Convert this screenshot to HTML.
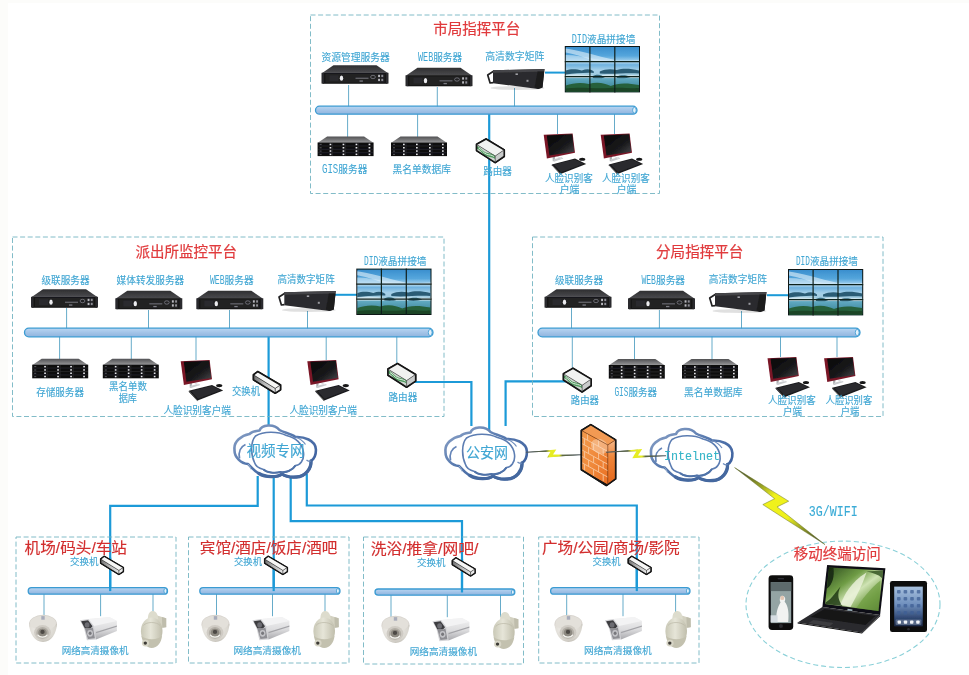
<!DOCTYPE html>
<html lang="zh"><head><meta charset="utf-8"><title>监控平台网络拓扑</title>
<style>html,body{margin:0;padding:0;background:#fff}body{width:969px;height:675px;overflow:hidden}svg{display:block}</style>
</head><body>
<svg width="969" height="675" viewBox="0 0 969 675">
<defs>
<filter id="soft" x="0" y="0" width="100%" height="100%" filterUnits="userSpaceOnUse"><feGaussianBlur stdDeviation="0.6"/></filter>
<linearGradient id="gbus" x1="0" y1="0" x2="0" y2="1"><stop offset="0" stop-color="#b9d6f2"/><stop offset="0.5" stop-color="#a3c4e8"/><stop offset="1" stop-color="#8fb4de"/></linearGradient>
<linearGradient id="gsrvtop" x1="0" y1="0" x2="0" y2="1"><stop offset="0" stop-color="#2e2e30"/><stop offset="1" stop-color="#4a4a4d"/></linearGradient>
<linearGradient id="gstotop" x1="0" y1="0" x2="0" y2="1"><stop offset="0" stop-color="#505052"/><stop offset="1" stop-color="#98989a"/></linearGradient>
<linearGradient id="gscreen" x1="0" y1="0" x2="1" y2="1"><stop offset="0" stop-color="#050505"/><stop offset="0.6" stop-color="#1a1a1c"/><stop offset="1" stop-color="#4a4a4e"/></linearGradient>
<linearGradient id="gsky" x1="0" y1="0" x2="0" y2="1"><stop offset="0" stop-color="#3a8fce"/><stop offset="0.2" stop-color="#55a6dc"/><stop offset="0.34" stop-color="#b3d9f0"/><stop offset="0.4" stop-color="#6fb2df"/><stop offset="0.52" stop-color="#a5d0e8"/><stop offset="0.66" stop-color="#9dc9dc"/><stop offset="0.72" stop-color="#5fa8c0"/><stop offset="0.86" stop-color="#4a93a8"/><stop offset="1" stop-color="#2f6f6a"/></linearGradient>
<linearGradient id="gcloud" x1="0" y1="0" x2="1" y2="1"><stop offset="0" stop-color="#8da4c8"/><stop offset="0.45" stop-color="#5577ad"/><stop offset="1" stop-color="#35599a"/></linearGradient>
<linearGradient id="gfwf" x1="0" y1="0" x2="1" y2="1"><stop offset="0" stop-color="#f39a4c"/><stop offset="0.5" stop-color="#f08a3c"/><stop offset="1" stop-color="#ea6f24"/></linearGradient>
<linearGradient id="gfws" x1="0" y1="0" x2="0" y2="1"><stop offset="0" stop-color="#f6b88a"/><stop offset="0.4" stop-color="#ee8438"/><stop offset="1" stop-color="#e4661c"/></linearGradient>
<radialGradient id="gdome" cx="0.4" cy="0.3" r="0.8"><stop offset="0" stop-color="#f4f2ee"/><stop offset="0.7" stop-color="#d9d6cf"/><stop offset="1" stop-color="#b8b4ab"/></radialGradient>
<linearGradient id="gbullet" x1="0" y1="0" x2="0" y2="1"><stop offset="0" stop-color="#f2f2f2"/><stop offset="0.55" stop-color="#dcdcde"/><stop offset="1" stop-color="#a9a9ad"/></linearGradient>
<linearGradient id="gptz" x1="0" y1="0" x2="1" y2="0"><stop offset="0" stop-color="#c9c8b6"/><stop offset="0.45" stop-color="#e6e5d8"/><stop offset="1" stop-color="#c0beac"/></linearGradient>
<linearGradient id="glap" x1="0" y1="0" x2="1" y2="1"><stop offset="0" stop-color="#2c4a1e"/><stop offset="0.35" stop-color="#6f9c45"/><stop offset="0.55" stop-color="#cfe3b4"/><stop offset="0.75" stop-color="#7ea654"/><stop offset="1" stop-color="#35561f"/></linearGradient>
<linearGradient id="gtab" x1="0" y1="0" x2="0" y2="1"><stop offset="0" stop-color="#a9c2df"/><stop offset="0.45" stop-color="#6f8fbd"/><stop offset="0.8" stop-color="#2f4670"/><stop offset="1" stop-color="#1b2945"/></linearGradient>

<linearGradient id="gbolt" x1="0" y1="0" x2="1" y2="0"><stop offset="0" stop-color="#4e585c"/><stop offset="0.36" stop-color="#5d6840"/><stop offset="0.42" stop-color="#e6ec22"/><stop offset="0.6" stop-color="#e6ec22"/><stop offset="0.66" stop-color="#5d6840"/><stop offset="1" stop-color="#4e585c"/></linearGradient>
<linearGradient id="gbolt2" x1="0" y1="0" x2="1" y2="1"><stop offset="0" stop-color="#2c3430"/><stop offset="0.27" stop-color="#9aa324"/><stop offset="0.4" stop-color="#f0f21e"/><stop offset="0.62" stop-color="#eef01e"/><stop offset="0.78" stop-color="#8c9626"/><stop offset="1" stop-color="#23282c"/></linearGradient>
<linearGradient id="gswf" x1="0" y1="0" x2="1" y2="0"><stop offset="0" stop-color="#6f6f70"/><stop offset="0.5" stop-color="#b9b9b9"/><stop offset="1" stop-color="#e6e6e6"/></linearGradient>
<!-- rack server 67x20 -->
<g id="srv">
<polygon points="12,0.2 55,0.2 66,7.8 1,7.8" fill="url(#gsrvtop)"/>
<rect x="1" y="7.6" width="65" height="11.2" fill="#161618"/>
<rect x="0" y="7.8" width="2.6" height="10.8" fill="#2b2b2e"/>
<rect x="64.4" y="7.8" width="2.6" height="10.8" fill="#2b2b2e"/>
<rect x="4" y="8.8" width="59" height="8.8" fill="#202023"/>
<ellipse cx="20" cy="13.2" rx="1.7" ry="2.6" fill="#ececef"/>
<rect x="8" y="10.2" width="9" height="5.8" fill="#2a2a2e"/>
<rect x="34" y="12.6" width="13" height="1.4" fill="#5e5e64"/>
<ellipse cx="51.5" cy="12" rx="2.4" ry="1.7" fill="none" stroke="#8a8a90" stroke-width="0.7"/>
<rect x="56.6" y="9.8" width="1.9" height="2.3" fill="#b9b9be"/><rect x="56.6" y="13.8" width="1.9" height="2.3" fill="#b9b9be"/>
<rect x="59.8" y="9.8" width="1.9" height="2.3" fill="#8e8e94"/><rect x="59.8" y="13.8" width="1.9" height="2.3" fill="#8e8e94"/>
<rect x="38" y="15.4" width="3.4" height="1.3" fill="#7c7c82"/>
</g>

<!-- storage server 56x20 -->
<g id="sto">
<polygon points="9.5,0.2 46.5,0.2 55.8,6.4 0.2,6.4" fill="url(#gstotop)"/>
<rect x="0" y="6.2" width="56" height="13.6" fill="#0e0e10"/>
<g stroke="#3a3a3e" stroke-width="0.45"><line x1="0.5" y1="9.6" x2="55.5" y2="9.6"/><line x1="0.5" y1="13" x2="55.5" y2="13"/><line x1="0.5" y1="16.4" x2="55.5" y2="16.4"/><line x1="15" y1="6.5" x2="15" y2="19.6"/><line x1="28" y1="6.5" x2="28" y2="19.6"/><line x1="41" y1="6.5" x2="41" y2="19.6"/></g>
<g fill="#e6e6ea">
<rect x="12" y="7.4" width="1.7" height="1.5"/><rect x="25" y="7.4" width="1.7" height="1.5"/><rect x="38" y="7.4" width="1.7" height="1.5"/><rect x="51" y="7.4" width="1.7" height="1.5"/>
<rect x="12" y="10.7" width="1.7" height="1.5"/><rect x="25" y="10.7" width="1.7" height="1.5"/><rect x="38" y="10.7" width="1.7" height="1.5"/><rect x="51" y="10.7" width="1.7" height="1.5"/>
<rect x="12" y="14" width="1.7" height="1.5"/><rect x="25" y="14" width="1.7" height="1.5"/><rect x="38" y="14" width="1.7" height="1.5"/><rect x="51" y="14" width="1.7" height="1.5"/>
<rect x="12" y="17.3" width="1.7" height="1.5"/><rect x="25" y="17.3" width="1.7" height="1.5"/><rect x="38" y="17.3" width="1.7" height="1.5"/><rect x="51" y="17.3" width="1.7" height="1.5"/>
</g>
<g fill="#55555a"><rect x="2" y="7.6" width="2" height="1"/><rect x="2" y="11" width="2" height="1"/><rect x="2" y="14.3" width="2" height="1"/><rect x="2" y="17.6" width="2" height="1"/></g>
</g>

<!-- matrix 58x21 -->
<g id="mtx">
<ellipse cx="31" cy="20" rx="27" ry="2" fill="#000" opacity="0.12"/>
<path d="M7.4,3 L1.2,7 L3.6,15 L6.6,14.6" fill="none" stroke="#222224" stroke-width="1.7" stroke-linejoin="round"/>
<polygon points="6.5,2.2 58,1 56,19.6 51.7,21 6.5,15.2" fill="#2b2b2d"/>
<polygon points="6.5,2.2 58,1 57.7,3.4 6.5,4.8" fill="#454548"/>
<polygon points="51,3.6 57.7,3.4 56,19.6 51.7,21 48,19.6" fill="#1d1d1f"/>
<rect x="29" y="5.4" width="2.4" height="1.6" fill="#a2a2a8"/>
<rect x="40" y="11.8" width="2" height="2" fill="#9a9aa0"/>
</g>

<!-- video wall 75x46 -->
<g id="wall">
<rect x="0" y="0" width="75.2" height="46.4" fill="#0c1512"/>
<rect x="1" y="1" width="73.2" height="44.4" fill="url(#gsky)"/>
<path d="M1,2.6 C12,4 30,9.5 52,14.6 L30,15.2 C20,11.5 10,8 1,6.6 Z" fill="#e4f1fa" opacity="0.6"/>
<path d="M1,9 C10,9 20,11 30,13 C40,14.5 52,15 74.2,14 L74.2,16 L1,16 Z" fill="#d7ebf7" opacity="0.55"/>
<path d="M1,24.5 C6,22.5 12,23 17,24.5 C22,22.5 26,23 29,25.5 L29,27 C20,26.5 10,27.5 1,28.5 Z" fill="#2a5b74"/>
<path d="M35,25.5 C40,23 46,22.5 52,24 C58,22 66,22.5 74.2,24.5 L74.2,27.5 C62,26.5 50,28.5 35,27.5 Z" fill="#2a5b74"/>
<path d="M1,29 C10,27.5 22,28.5 30,30 C38,28.5 50,28 60,29.5 C66,28.5 70,29 74.2,29.5 L74.2,32 L1,32 Z" fill="#e3f0f4" opacity="0.7"/>
<path d="M28,30 C33,27.5 37,29 40,31.5 C37,32.5 32,32.5 28,32 Z M52,30.5 C56,28.5 62,29 66,31 C62,32.5 56,32.5 52,32 Z" fill="#35687c"/>
<path d="M1,39.5 C8,37 16,36 24,38 C32,35.5 40,37 46,40 C52,37 62,36.5 74.2,39 L74.2,45.4 L1,45.4 Z" fill="#27603a"/>
<path d="M1,42.4 C14,40.5 30,43 44,42 C56,41 66,42.6 74.2,42 L74.2,45.4 L1,45.4 Z" fill="#1a4525"/>
<g stroke="#10201c" stroke-width="1.2"><line x1="25.1" y1="0" x2="25.1" y2="46.4"/><line x1="50" y1="0" x2="50" y2="46.4"/><line x1="0" y1="15.6" x2="75.2" y2="15.6"/><line x1="0" y1="30.6" x2="75.2" y2="30.6"/></g>
</g>

<!-- router 29x25 -->
<g id="rtr" stroke-linejoin="round">
<polygon points="10.5,0.6 28.6,11.5 28.6,18 19.6,24.2 1,12.2 1,6" fill="#161616" stroke="#161616" stroke-width="1.8"/>
<polygon points="10.5,0.8 28.4,11.6 19.6,17.6 1.2,6.2" fill="#f1f2f1"/>
<polygon points="1.2,6.2 19.6,17.6 19.6,24 1.2,12" fill="#cfd6d0"/>
<path d="M1.2,7.6 C5,8.4 7,13 11,14.4 C14,15.4 17.6,15 19.6,17.8 L19.6,20.6 C17,18.4 14,19 10.6,17.6 C6.6,16 5.4,11.4 1.2,10.4 Z" fill="#4d9a5c"/>
<path d="M3,9.6 C6,10.8 7.4,14.6 11,15.8 C13.6,16.6 16.4,16.6 18.6,18.2" fill="none" stroke="#e9f1ea" stroke-width="0.9"/>
<polygon points="19.6,17.6 28.4,11.6 28.4,18 19.6,24" fill="#c9cbcb"/>
<polygon points="10.5,0.6 28.6,11.5 28.6,18 19.6,24.2 1,12.2 1,6" fill="none" stroke="#161616" stroke-width="1.5"/>
<polyline points="1.2,6.2 19.6,17.6 28.4,11.6" fill="none" stroke="#444" stroke-width="0.6"/>
<line x1="19.6" y1="17.6" x2="19.6" y2="24" stroke="#444" stroke-width="0.6"/>
</g>

<!-- pc 45x41 -->
<g id="pc" transform="scale(1,1.04)">
<polygon points="9.6,21.6 12.2,21.6 11.6,27 9.8,27.2" fill="#a9abae"/>
<polygon points="10,25.6 18.6,23.4 20.4,24.6 11,27.6" fill="#c9cbce"/>
<polygon points="13,22 15,22 19.4,24.4 17.6,25" fill="#dcdde0"/>
<polygon points="0.7,1.8 29.6,0.6 32,19 3.9,24.6" fill="#7a1727"/>
<polygon points="3.8,2.3 29.2,1.3 31.2,18 6.4,21.6" fill="url(#gscreen)"/>
<polygon points="8.8,30.2 32,24.6 43.2,29.8 17.6,39.4" fill="#1a1a1c"/>
<polygon points="11,30.4 31.8,25.6 40.6,29.6 18,37.8" fill="#2b2b2f"/>
<polygon points="8.8,30.2 17.6,39.4 17.6,40.2 8.8,31.1" fill="#0a0a0b"/>
<ellipse cx="39.2" cy="25.2" rx="3.1" ry="1.5" fill="#151517"/>
</g>

<!-- switch 28.5x22.5 -->
<g id="sw" stroke-linejoin="round">
<polygon points="5,0.6 27.8,14 27.8,18.8 22.5,22.2 0.8,8.8 0.8,3.8" fill="#141414" stroke="#141414" stroke-width="1.8"/>
<polygon points="5,0.8 27.6,14 22.5,17.4 1,4" fill="#f6f6f5"/>
<polygon points="1,4 22.5,17.4 22.5,22 1,8.6" fill="url(#gswf)"/>
<polygon points="22.5,17.4 27.6,14 27.6,18.6 22.5,22" fill="#ececec"/>
<polygon points="5,0.6 27.8,14 27.8,18.8 22.5,22.2 0.8,8.8 0.8,3.8" fill="none" stroke="#141414" stroke-width="1.5"/>
<polyline points="1,4 22.5,17.4 27.6,14" fill="none" stroke="#333" stroke-width="0.7"/>
<line x1="22.5" y1="17.4" x2="22.5" y2="22" stroke="#333" stroke-width="0.7"/>
</g>

<!-- cloud 84x54 -->
<g id="cloud">
<path d="M1,25 C0,17 8,11 16,9.5 C19,6.5 23,6.5 26,6 C28,0.5 40,-1.5 46,5.5 C50,8 57,9 62,12.5 C70,12 82,15.5 82.4,25 C82.6,31 80,35 77.5,36.5 C78,44 72,52 63,52.5 C57,53 52,52 48.5,49.5 C44,53.2 32,53 25.5,49 C21,47 18,42.5 14.5,39.5 C8,39 0.6,33 1,25 Z" fill="#ffffff" stroke="url(#gcloud)" stroke-width="2.6" stroke-linejoin="round"/>
<path d="M25.5,49 C32,53 44,53.2 48.5,49.5 C52,52 57,53 63,52.5 C72,52 78,44 77.5,36.5" fill="none" stroke="#44689f" stroke-width="3.3" stroke-linecap="round"/>
<path d="M21,38 C17,30 17,17 22,11.5 C30,6.5 44,6.5 53,11 C62,13 69,19 70,28 C71,36 66,41 62,41 C59,46 52,48.5 47,47.5 C41,49 33,48 30,45 C26,44 22,42 21,38 Z" fill="none" stroke="#5c7db2" stroke-width="1.6"/>
<path d="M62,41 C59,46 52,48.5 47,47.5 C41,49 33,48 30,45" fill="none" stroke="#4f72a8" stroke-width="2"/>
<path d="M6,34 C4.6,27 7.5,22 12,20" fill="none" stroke="#6585b8" stroke-width="1.8"/>
<path d="M62,12.5 C66,14 70,17 72,20 M77.5,36.5 C76,37 74,36.5 73,35.5" fill="none" stroke="#6d8cbd" stroke-width="1.2"/>
<path d="M14.5,39.5 C16,41 17,43 17.5,45" fill="none" stroke="#9db4d2" stroke-width="1"/>
</g>

<!-- firewall 36x62 -->
<g id="fw" stroke-linejoin="round">
<polygon points="0.8,6.2 10.2,0.4 35,15.6 35,54.6 25.8,61.2 0.8,45.4" fill="#141414" stroke="#141414" stroke-width="1.7"/>
<polygon points="0.9,6.2 10.2,0.6 34.9,15.6 27.2,20.6" fill="#f29a52"/>
<polygon points="0.9,6.2 27.2,20.6 27.2,60.2 0.9,45.2" fill="url(#gfwf)"/>
<polygon points="27.2,20.6 34.9,15.6 34.9,54.6 27.2,60.2" fill="url(#gfws)"/>
<g stroke="#f8c79e" stroke-width="0.9" fill="none">
<line x1="0.9" y1="12.6" x2="27.2" y2="27.2"/><line x1="0.9" y1="19" x2="27.2" y2="33.6"/><line x1="0.9" y1="25.4" x2="27.2" y2="40"/><line x1="0.9" y1="31.8" x2="27.2" y2="46.4"/><line x1="0.9" y1="38.2" x2="27.2" y2="52.8"/>
<line x1="7" y1="9.6" x2="7" y2="16"/><line x1="18" y1="15.8" x2="18" y2="22.2"/>
<line x1="4" y1="14.4" x2="4" y2="20.8"/><line x1="13" y1="19.4" x2="13" y2="25.8"/><line x1="22.6" y1="24.8" x2="22.6" y2="31.2"/>
<line x1="8" y1="23" x2="8" y2="29.4"/><line x1="18" y1="28.6" x2="18" y2="35"/>
<line x1="4" y1="27.2" x2="4" y2="33.6"/><line x1="13" y1="32.2" x2="13" y2="38.6"/><line x1="22.6" y1="37.6" x2="22.6" y2="44"/>
<line x1="8" y1="35.8" x2="8" y2="42.2"/><line x1="18" y1="41.4" x2="18" y2="47.8"/>
<line x1="4" y1="40" x2="4" y2="46.4"/><line x1="13" y1="45" x2="13" y2="51.4"/><line x1="22.6" y1="50.4" x2="22.6" y2="56.8"/>
</g>
<ellipse cx="19" cy="22" rx="9" ry="7" fill="#fbe0c8" opacity="0.45" transform="rotate(28 19 22)"/>
<polygon points="0.8,6.2 10.2,0.4 35,15.6 35,54.6 25.8,61.2 0.8,45.4" fill="none" stroke="#141414" stroke-width="1.5"/>
<polyline points="0.9,6.2 27.2,20.6 34.9,15.6" fill="none" stroke="#7a3a14" stroke-width="0.6"/>
<line x1="27.2" y1="20.6" x2="27.2" y2="60.2" stroke="#7a3a14" stroke-width="0.6"/>
</g>
<polygon points="0.8,6.6 10.2,0.6 34.8,14.6 34.8,53 26.8,59.8 0.8,45.2" fill="none" stroke="#111" stroke-width="1.3"/>
<polyline points="0.8,6.6 26.8,21.2 34.8,14.6" fill="none" stroke="#5a2a10" stroke-width="0.6"/>
<line x1="26.8" y1="21.2" x2="26.8" y2="59.8" stroke="#5a2a10" stroke-width="0.6"/>
</g>

<!-- dome camera 29x29 -->
<g id="dome">
<ellipse cx="14.5" cy="10.6" rx="14" ry="9.4" fill="#d6d2cc"/>
<path d="M0.6,10.6 C1,20 6,28.6 14.5,28.6 C23,28.6 28,20 28.4,10.6 Z" fill="url(#gdome)"/>
<ellipse cx="14.5" cy="9.6" rx="13" ry="7.4" fill="#e3e0da"/>
<ellipse cx="14" cy="19" rx="8.4" ry="7.6" fill="#cfcbc4"/>
<ellipse cx="14" cy="19.4" rx="6.2" ry="5.8" fill="#b3afa7"/>
<ellipse cx="14" cy="19.2" rx="4.2" ry="4" fill="#8d8981"/>
<ellipse cx="14" cy="18.4" rx="2.2" ry="2.1" fill="#4d4a45"/>
<path d="M9.4,21.6 C11,24.2 17,24.2 18.6,21.6" fill="none" stroke="#f4f3ee" stroke-width="1.3" stroke-linecap="round"/>
<rect x="12.8" y="2.6" width="3.4" height="3.6" fill="#8e96ad" opacity="0.7"/>
</g>

<!-- bullet camera 38x25 -->
<g id="bullet">
<polygon points="9,2.6 30,0.6 37.4,4.6 37.4,14.6 16.6,23 12,14" fill="url(#gbullet)"/>
<polygon points="9,2.6 30,0.6 37.4,4.6 14.4,9.4" fill="#f3f3f4"/>
<polygon points="0.4,3.8 9,2.6 14.4,9.4 16.6,23 7.4,23.8 4.6,12" fill="#d4d4d7"/>
<polygon points="1.6,4.8 8.6,3.8 13,9.8 11,12 5.4,12" fill="#3c3c40"/>
<polygon points="5.4,12 11,12 13.4,11 15.4,21.8 8.4,22.6" fill="#8e8e93"/>
<ellipse cx="7.6" cy="8.4" rx="2.4" ry="2.6" fill="#6c6c72"/>
<ellipse cx="10.6" cy="16.8" rx="2.9" ry="3.4" fill="#c4c4c8"/>
<ellipse cx="10.6" cy="16.8" rx="1.5" ry="1.8" fill="#77777c"/>
<polygon points="16.4,15.4 37.4,9 37.4,10.2 16.6,16.8" fill="#a3a3a7"/>
</g>

<!-- ptz camera 26x38 -->
<g id="ptz">
<polygon points="9,2.6 24.6,7.4 25.6,16.6 20.4,17.4 13,8" fill="#d3d1c1"/>
<polygon points="21.4,6.6 25.8,7.8 25.8,16.8 21.8,17.2" fill="#bfbdac"/>
<path d="M7.4,9 C7.2,3 9.6,0.6 12.4,0.6 C15.2,0.6 17.4,3.4 17.8,9 Z" fill="#dddccd"/>
<ellipse cx="11.2" cy="20.4" rx="10.8" ry="13.4" fill="url(#gptz)"/>
<path d="M0.8,25 C2,32.6 6,37.4 11.2,37.4 C16.8,37.4 20.8,32.6 21.6,25 C18,30 5,30 0.8,25 Z" fill="#c3c1af"/>
<ellipse cx="5" cy="32.6" rx="3.6" ry="3.4" fill="#d7d5c6"/>
<circle cx="4.8" cy="32.6" r="1.7" fill="#3c3b36"/>
<path d="M3,15 C6,11 16,11 19.6,15" fill="none" stroke="#bab8a6" stroke-width="0.7"/>
</g>

<!-- phone 25x55 -->
<g id="phone">
<rect x="0" y="0" width="24.6" height="54.6" rx="3.4" fill="#0d0d0f"/>
<rect x="2.2" y="6.8" width="20.4" height="41" fill="#94a4a4"/>
<rect x="2.2" y="6.8" width="20.4" height="9" fill="#5d6a6c"/>
<path d="M8,46.8 C7,38 9,32 12,27 C10.6,25 11,21 13.6,20.4 C16.4,20.4 17.4,23.6 16,26.4 C19.6,30 20.6,38 19.6,46.8 Z" fill="#f1f2f1"/>
<ellipse cx="13.6" cy="22.6" rx="2" ry="2.2" fill="#e3c7b4"/>
<rect x="2" y="40" width="7" height="7" fill="#d6dde2"/>
<circle cx="12.3" cy="50.8" r="2" fill="#2a2a2e"/>
<rect x="9" y="3" width="6.6" height="1" rx="0.5" fill="#3a3a3e"/>
</g>

<!-- laptop 90x68 -->
<g id="laptop">
<polygon points="30.6,0.6 88.9,3.8 83.6,50.5 25.9,42.5" fill="#111113"/>
<polygon points="32.6,3 86.6,6 82,46.4 28.6,39.4" fill="url(#glap)"/>
<path d="M30.4,24 C36,20 38,12 37,3.4 L32.6,3 Z" fill="#16280f" opacity="0.9"/>
<path d="M29,38 C36,34 40,26 44,22 C40,30 42,36 46,41.6 L28.6,39.4 Z" fill="#1e3a14" opacity="0.85"/>
<path d="M44,40 C48,30 54,18 70,8 C66,20 60,32 54,42.4 Z" fill="#eef4de" opacity="0.8"/>
<path d="M60,43.6 C66,34 74,24 84,16 L82,46.4 Z" fill="#6e9c40" opacity="0.7"/>
<path d="M70,7 C76,8 82,10 86,14 L86.6,6 Z" fill="#2d4c1c" opacity="0.8"/>
<polygon points="25.9,42.5 83.6,50.5 65.5,67.9 1.1,57.9" fill="#2b2b2e"/>
<polygon points="28,44.6 79,51.6 69,60.6 14,52.6" fill="#161618"/>
<polygon points="17,55.4 37,58.4 33,61.8 12,58.6" fill="#3c3c40"/>
<polygon points="1.1,57.9 65.5,67.9 65.5,69 1.1,59.1" fill="#0a0a0b"/>
<polygon points="65.5,67.9 83.6,50.5 83.6,51.8 65.5,69" fill="#151517"/>
<rect x="51" y="44.6" width="5" height="1.6" fill="#9fb5c0" transform="rotate(7 53 45)"/>
</g>

<!-- tablet 37x51 -->
<g id="tablet">
<rect x="0" y="0" width="37" height="51" rx="2.2" fill="#0c0c0e"/>
<rect x="4.2" y="5.6" width="28.6" height="39.8" fill="url(#gtab)"/>
<g fill="#3f5f95" opacity="0.75"><rect x="7" y="9" width="3.6" height="3.6" rx="0.8"/><rect x="13.6" y="9" width="3.6" height="3.6" rx="0.8"/><rect x="20.2" y="9" width="3.6" height="3.6" rx="0.8"/><rect x="26.8" y="9" width="3.6" height="3.6" rx="0.8"/>
<rect x="7" y="16" width="3.6" height="3.6" rx="0.8"/><rect x="13.6" y="16" width="3.6" height="3.6" rx="0.8"/><rect x="20.2" y="16" width="3.6" height="3.6" rx="0.8"/><rect x="26.8" y="16" width="3.6" height="3.6" rx="0.8"/>
<rect x="7" y="23" width="3.6" height="3.6" rx="0.8"/><rect x="13.6" y="23" width="3.6" height="3.6" rx="0.8"/><rect x="20.2" y="23" width="3.6" height="3.6" rx="0.8"/><rect x="26.8" y="23" width="3.6" height="3.6" rx="0.8"/>
<rect x="7" y="30" width="3.6" height="3.6" rx="0.8"/><rect x="13.6" y="30" width="3.6" height="3.6" rx="0.8"/><rect x="20.2" y="30" width="3.6" height="3.6" rx="0.8"/><rect x="26.8" y="30" width="3.6" height="3.6" rx="0.8"/></g>
<rect x="5.6" y="38.4" width="25.8" height="5.6" rx="1" fill="#8a9ab6" opacity="0.5"/>
<g fill="#f1f4f7"><rect x="7.6" y="39.4" width="3.4" height="3.4" rx="0.8"/><rect x="13.8" y="39.4" width="3.4" height="3.4" rx="0.8"/><rect x="20" y="39.4" width="3.4" height="3.4" rx="0.8"/><rect x="26.2" y="39.4" width="3.4" height="3.4" rx="0.8"/></g>
<circle cx="18.5" cy="48.2" r="1.3" fill="#2c2c30"/>
</g>
</defs>

<rect width="969" height="675" fill="#ffffff"/>
<rect width="8" height="675" fill="#fcfcfa"/><rect width="969" height="3" fill="#fcfcfa"/>
<g filter="url(#soft)">
<line x1="489.2" y1="112" x2="489.2" y2="432" stroke="#1c9ad8" stroke-width="2.2"/>
<line x1="268.6" y1="335" x2="268.6" y2="428" stroke="#1c9ad8" stroke-width="2.2"/>
<polyline points="414,382 471.4,382 471.4,426" fill="none" stroke="#1c9ad8" stroke-width="2.2" stroke-linejoin="miter"/>
<polyline points="566,381.3 505.6,381.3 505.6,426" fill="none" stroke="#1c9ad8" stroke-width="2.2" stroke-linejoin="miter"/>
<polyline points="257.7,476 257.7,505.8 110.2,505.8 110.2,590" fill="none" stroke="#1c9ad8" stroke-width="2.2" stroke-linejoin="miter"/>
<line x1="273.7" y1="476" x2="273.7" y2="590" stroke="#1c9ad8" stroke-width="2.2"/>
<polyline points="290.7,476 290.7,521.2 462,521.2 462,591" fill="none" stroke="#1c9ad8" stroke-width="2.2" stroke-linejoin="miter"/>
<polyline points="306.8,474 306.8,505.5 636.8,505.5 636.8,590" fill="none" stroke="#1c9ad8" stroke-width="2.2" stroke-linejoin="miter"/>
<rect x="310.5" y="15" width="349.0" height="178.5" fill="none" stroke="#74b4c2" stroke-width="0.9" stroke-dasharray="5 2.6"/>
<rect x="12.5" y="237" width="431.5" height="179.5" fill="none" stroke="#74b4c2" stroke-width="0.9" stroke-dasharray="5 2.6"/>
<rect x="532.5" y="237" width="350.5" height="179.5" fill="none" stroke="#74b4c2" stroke-width="0.9" stroke-dasharray="5 2.6"/>
<rect x="16" y="537" width="160" height="126" fill="none" stroke="#74b4c2" stroke-width="0.9" stroke-dasharray="5 2.6"/>
<rect x="188.5" y="537" width="160.5" height="126" fill="none" stroke="#74b4c2" stroke-width="0.9" stroke-dasharray="5 2.6"/>
<rect x="363.5" y="537" width="160.0" height="127" fill="none" stroke="#74b4c2" stroke-width="0.9" stroke-dasharray="5 2.6"/>
<rect x="538.7" y="537" width="160.29999999999995" height="126" fill="none" stroke="#74b4c2" stroke-width="0.9" stroke-dasharray="5 2.6"/>
<ellipse cx="843" cy="604.3" rx="97" ry="63.2" fill="none" stroke="#8ad0d8" stroke-width="1.1" stroke-dasharray="5 3"/>
<text x="476.7" y="33.7" font-size="15" fill="#e03a3c" text-anchor="middle" font-family='"Liberation Sans","Noto Sans CJK SC",sans-serif' textLength="87.0" lengthAdjust="spacingAndGlyphs" stroke="#e03a3c" stroke-width="0.22">市局指挥平台</text>
<line x1="348.6" y1="85" x2="348.6" y2="107" stroke="#5ea6c6" stroke-width="0.95"/>
<line x1="437.3" y1="87" x2="437.3" y2="107" stroke="#5ea6c6" stroke-width="0.95"/>
<line x1="514.5" y1="88" x2="514.5" y2="107" stroke="#5ea6c6" stroke-width="0.95"/>
<line x1="347.6" y1="113" x2="347.6" y2="137" stroke="#5ea6c6" stroke-width="0.95"/>
<line x1="417.6" y1="113" x2="417.6" y2="137" stroke="#5ea6c6" stroke-width="0.95"/>
<line x1="557.5" y1="113" x2="557.5" y2="134" stroke="#5ea6c6" stroke-width="0.95"/>
<line x1="614.5" y1="113" x2="614.5" y2="134" stroke="#5ea6c6" stroke-width="0.95"/>
<line x1="545" y1="72.6" x2="566" y2="72.6" stroke="#1c9ad8" stroke-width="2"/>
<rect x="315.5" y="106.2" width="321.5" height="8.0" rx="4.0" fill="url(#gbus)" stroke="#3b9bd2" stroke-width="1.3"/>
<ellipse cx="634.4" cy="110.2" rx="1.8" ry="2.9" fill="#e4f1fb" stroke="#3b9bd2" stroke-width="0.8"/>
<use href="#srv" x="321.5" y="65"/>
<use href="#srv" x="405.5" y="67.5"/>
<use href="#mtx" x="486.5" y="68"/>
<use href="#wall" x="564.8" y="46"/>
<use href="#sto" x="317.6" y="136.3"/>
<use href="#sto" x="391" y="136.3"/>
<use href="#rtr" x="475.6" y="138.4"/>
<use href="#pc" x="543" y="133"/>
<use href="#pc" x="600" y="133"/>
<text x="355.6" y="61.0" font-size="9.8" fill="#40a6d3" text-anchor="middle" font-family='"Liberation Sans","Noto Sans CJK SC",sans-serif' textLength="68.4" lengthAdjust="spacingAndGlyphs" stroke="#40a6d3" stroke-width="0.12">资源管理服务器</text>
<text x="418.0" y="61.3" font-size="12.0" fill="#40a6d3" font-family='"Liberation Mono",monospace' textLength="15.2" lengthAdjust="spacingAndGlyphs">WEB</text>
<text x="433.2" y="61.3" font-size="9.8" fill="#40a6d3" stroke="#40a6d3" stroke-width="0.12" font-family='"Liberation Sans","Noto Sans CJK SC",sans-serif' textLength="29.0" lengthAdjust="spacingAndGlyphs">服务器</text>
<text x="514.8" y="60.0" font-size="9.8" fill="#40a6d3" text-anchor="middle" font-family='"Liberation Sans","Noto Sans CJK SC",sans-serif' textLength="59.1" lengthAdjust="spacingAndGlyphs" stroke="#40a6d3" stroke-width="0.12">高清数字矩阵</text>
<text x="571.7" y="42.5" font-size="12.0" fill="#40a6d3" font-family='"Liberation Mono",monospace' textLength="15.3" lengthAdjust="spacingAndGlyphs">DID</text>
<text x="587.0" y="42.5" font-size="9.8" fill="#40a6d3" stroke="#40a6d3" stroke-width="0.12" font-family='"Liberation Sans","Noto Sans CJK SC",sans-serif' textLength="48.3" lengthAdjust="spacingAndGlyphs">液晶拼接墙</text>
<text x="322.0" y="172.8" font-size="12.0" fill="#40a6d3" font-family='"Liberation Mono",monospace' textLength="16.3" lengthAdjust="spacingAndGlyphs">GIS</text>
<text x="338.3" y="172.8" font-size="9.8" fill="#40a6d3" stroke="#40a6d3" stroke-width="0.12" font-family='"Liberation Sans","Noto Sans CJK SC",sans-serif' textLength="29.0" lengthAdjust="spacingAndGlyphs">服务器</text>
<text x="421.8" y="172.8" font-size="9.8" fill="#40a6d3" text-anchor="middle" font-family='"Liberation Sans","Noto Sans CJK SC",sans-serif' textLength="58.4" lengthAdjust="spacingAndGlyphs" stroke="#40a6d3" stroke-width="0.12">黑名单数据库</text>
<text x="497.5" y="175.1" font-size="9.8" fill="#40a6d3" text-anchor="middle" font-family='"Liberation Sans","Noto Sans CJK SC",sans-serif' textLength="28.7" lengthAdjust="spacingAndGlyphs" stroke="#40a6d3" stroke-width="0.12">路由器</text>
<text x="568.9" y="181.9" font-size="9.8" fill="#40a6d3" text-anchor="middle" font-family='"Liberation Sans","Noto Sans CJK SC",sans-serif' textLength="47.8" lengthAdjust="spacingAndGlyphs" stroke="#40a6d3" stroke-width="0.12">人脸识别客</text>
<text x="569.5" y="193.1" font-size="9.8" fill="#40a6d3" text-anchor="middle" font-family='"Liberation Sans","Noto Sans CJK SC",sans-serif' textLength="19.7" lengthAdjust="spacingAndGlyphs" stroke="#40a6d3" stroke-width="0.12">户端</text>
<text x="625.9" y="181.9" font-size="9.8" fill="#40a6d3" text-anchor="middle" font-family='"Liberation Sans","Noto Sans CJK SC",sans-serif' textLength="47.8" lengthAdjust="spacingAndGlyphs" stroke="#40a6d3" stroke-width="0.12">人脸识别客</text>
<text x="626.5" y="193.1" font-size="9.8" fill="#40a6d3" text-anchor="middle" font-family='"Liberation Sans","Noto Sans CJK SC",sans-serif' textLength="19.7" lengthAdjust="spacingAndGlyphs" stroke="#40a6d3" stroke-width="0.12">户端</text>
<text x="186.2" y="257.4" font-size="15" fill="#e03a3c" text-anchor="middle" font-family='"Liberation Sans","Noto Sans CJK SC",sans-serif' textLength="101.5" lengthAdjust="spacingAndGlyphs" stroke="#e03a3c" stroke-width="0.22">派出所监控平台</text>
<line x1="66.6" y1="308" x2="66.6" y2="329" stroke="#5ea6c6" stroke-width="0.95"/>
<line x1="148.5" y1="310" x2="148.5" y2="329" stroke="#5ea6c6" stroke-width="0.95"/>
<line x1="229.5" y1="310" x2="229.5" y2="329" stroke="#5ea6c6" stroke-width="0.95"/>
<line x1="307.5" y1="311" x2="307.5" y2="329" stroke="#5ea6c6" stroke-width="0.95"/>
<line x1="59.6" y1="336" x2="59.6" y2="359" stroke="#5ea6c6" stroke-width="0.95"/>
<line x1="131.3" y1="336" x2="131.3" y2="359" stroke="#5ea6c6" stroke-width="0.95"/>
<line x1="196" y1="336" x2="196" y2="360" stroke="#5ea6c6" stroke-width="0.95"/>
<line x1="326.2" y1="336" x2="326.2" y2="360" stroke="#5ea6c6" stroke-width="0.95"/>
<line x1="396.8" y1="336" x2="396.8" y2="364" stroke="#5ea6c6" stroke-width="0.95"/>
<line x1="335" y1="294.8" x2="357" y2="294.8" stroke="#1c9ad8" stroke-width="2"/>
<rect x="24.5" y="328.2" width="408.5" height="8.600000000000023" rx="4.300000000000011" fill="url(#gbus)" stroke="#3b9bd2" stroke-width="1.3"/>
<ellipse cx="430.2" cy="332.5" rx="1.9" ry="3.1" fill="#e4f1fb" stroke="#3b9bd2" stroke-width="0.8"/>
<use href="#srv" x="31" y="289"/>
<use href="#srv" x="115.3" y="290.5"/>
<use href="#srv" x="196.3" y="290.5"/>
<use href="#mtx" x="277.8" y="290"/>
<use href="#wall" x="356.3" y="268.6"/>
<use href="#sto" x="32.2" y="358.5"/>
<use href="#sto" x="102.8" y="358.5"/>
<use href="#pc" x="180" y="359.4"/>
<use href="#pc" x="306.6" y="359.4"/>
<use href="#sw" x="252.7" y="371"/>
<use href="#rtr" x="387" y="363"/>
<text x="65.5" y="283.5" font-size="9.8" fill="#40a6d3" text-anchor="middle" font-family='"Liberation Sans","Noto Sans CJK SC",sans-serif' textLength="48.1" lengthAdjust="spacingAndGlyphs" stroke="#40a6d3" stroke-width="0.12">级联服务器</text>
<text x="150.4" y="283.5" font-size="9.8" fill="#40a6d3" text-anchor="middle" font-family='"Liberation Sans","Noto Sans CJK SC",sans-serif' textLength="67.6" lengthAdjust="spacingAndGlyphs" stroke="#40a6d3" stroke-width="0.12">媒体转发服务器</text>
<text x="210.0" y="284.1" font-size="12.0" fill="#40a6d3" font-family='"Liberation Mono",monospace' textLength="14.6" lengthAdjust="spacingAndGlyphs">WEB</text>
<text x="224.6" y="284.1" font-size="9.8" fill="#40a6d3" stroke="#40a6d3" stroke-width="0.12" font-family='"Liberation Sans","Noto Sans CJK SC",sans-serif' textLength="29.0" lengthAdjust="spacingAndGlyphs">服务器</text>
<text x="306.1" y="282.9" font-size="9.8" fill="#40a6d3" text-anchor="middle" font-family='"Liberation Sans","Noto Sans CJK SC",sans-serif' textLength="57.1" lengthAdjust="spacingAndGlyphs" stroke="#40a6d3" stroke-width="0.12">高清数字矩阵</text>
<text x="364.0" y="264.5" font-size="12.0" fill="#40a6d3" font-family='"Liberation Mono",monospace' textLength="14.2" lengthAdjust="spacingAndGlyphs">DID</text>
<text x="378.2" y="264.5" font-size="9.8" fill="#40a6d3" stroke="#40a6d3" stroke-width="0.12" font-family='"Liberation Sans","Noto Sans CJK SC",sans-serif' textLength="48.3" lengthAdjust="spacingAndGlyphs">液晶拼接墙</text>
<text x="60.1" y="395.5" font-size="9.8" fill="#40a6d3" text-anchor="middle" font-family='"Liberation Sans","Noto Sans CJK SC",sans-serif' textLength="47.7" lengthAdjust="spacingAndGlyphs" stroke="#40a6d3" stroke-width="0.12">存储服务器</text>
<text x="128.0" y="389.5" font-size="9.8" fill="#40a6d3" text-anchor="middle" font-family='"Liberation Sans","Noto Sans CJK SC",sans-serif' textLength="38.0" lengthAdjust="spacingAndGlyphs" stroke="#40a6d3" stroke-width="0.12">黑名单数</text>
<text x="127.8" y="401.5" font-size="9.8" fill="#40a6d3" text-anchor="middle" font-family='"Liberation Sans","Noto Sans CJK SC",sans-serif' textLength="18.3" lengthAdjust="spacingAndGlyphs" stroke="#40a6d3" stroke-width="0.12">据库</text>
<text x="197.2" y="413.5" font-size="9.8" fill="#40a6d3" text-anchor="middle" font-family='"Liberation Sans","Noto Sans CJK SC",sans-serif' textLength="67.5" lengthAdjust="spacingAndGlyphs" stroke="#40a6d3" stroke-width="0.12">人脸识别客户端</text>
<text x="246.0" y="394.5" font-size="9.8" fill="#40a6d3" text-anchor="middle" font-family='"Liberation Sans","Noto Sans CJK SC",sans-serif' textLength="28.0" lengthAdjust="spacingAndGlyphs" stroke="#40a6d3" stroke-width="0.12">交换机</text>
<text x="323.2" y="413.5" font-size="9.8" fill="#40a6d3" text-anchor="middle" font-family='"Liberation Sans","Noto Sans CJK SC",sans-serif' textLength="67.6" lengthAdjust="spacingAndGlyphs" stroke="#40a6d3" stroke-width="0.12">人脸识别客户端</text>
<text x="402.9" y="401.1" font-size="9.8" fill="#40a6d3" text-anchor="middle" font-family='"Liberation Sans","Noto Sans CJK SC",sans-serif' textLength="28.9" lengthAdjust="spacingAndGlyphs" stroke="#40a6d3" stroke-width="0.12">路由器</text>
<text x="699.7" y="257.4" font-size="15" fill="#e03a3c" text-anchor="middle" font-family='"Liberation Sans","Noto Sans CJK SC",sans-serif' textLength="87.4" lengthAdjust="spacingAndGlyphs" stroke="#e03a3c" stroke-width="0.22">分局指挥平台</text>
<line x1="571.5" y1="308" x2="571.5" y2="329" stroke="#5ea6c6" stroke-width="0.95"/>
<line x1="659.4" y1="310" x2="659.4" y2="329" stroke="#5ea6c6" stroke-width="0.95"/>
<line x1="741.5" y1="311" x2="741.5" y2="329" stroke="#5ea6c6" stroke-width="0.95"/>
<line x1="572.3" y1="336" x2="572.3" y2="369" stroke="#5ea6c6" stroke-width="0.95"/>
<line x1="634.5" y1="336" x2="634.5" y2="360" stroke="#5ea6c6" stroke-width="0.95"/>
<line x1="712" y1="336" x2="712" y2="360" stroke="#5ea6c6" stroke-width="0.95"/>
<line x1="780.5" y1="336" x2="780.5" y2="357" stroke="#5ea6c6" stroke-width="0.95"/>
<line x1="837" y1="336" x2="837" y2="357" stroke="#5ea6c6" stroke-width="0.95"/>
<line x1="767" y1="295.2" x2="789" y2="295.2" stroke="#1c9ad8" stroke-width="2"/>
<rect x="538" y="328.2" width="322" height="8.600000000000023" rx="4.300000000000011" fill="url(#gbus)" stroke="#3b9bd2" stroke-width="1.3"/>
<ellipse cx="857.2" cy="332.5" rx="1.9" ry="3.1" fill="#e4f1fb" stroke="#3b9bd2" stroke-width="0.8"/>
<use href="#srv" x="544.5" y="289"/>
<use href="#srv" x="628" y="290.5"/>
<use href="#mtx" x="708.5" y="291"/>
<use href="#wall" x="788" y="269"/>
<use href="#rtr" x="562.5" y="367.7"/>
<use href="#sto" x="608.8" y="358.8"/>
<use href="#sto" x="682" y="358.8"/>
<use href="#pc" x="766.8" y="356.3"/>
<use href="#pc" x="823.4" y="356.3"/>
<text x="579.0" y="283.5" font-size="9.8" fill="#40a6d3" text-anchor="middle" font-family='"Liberation Sans","Noto Sans CJK SC",sans-serif' textLength="48.1" lengthAdjust="spacingAndGlyphs" stroke="#40a6d3" stroke-width="0.12">级联服务器</text>
<text x="641.4" y="284.1" font-size="12.0" fill="#40a6d3" font-family='"Liberation Mono",monospace' textLength="14.6" lengthAdjust="spacingAndGlyphs">WEB</text>
<text x="656.0" y="284.1" font-size="9.8" fill="#40a6d3" stroke="#40a6d3" stroke-width="0.12" font-family='"Liberation Sans","Noto Sans CJK SC",sans-serif' textLength="29.0" lengthAdjust="spacingAndGlyphs">服务器</text>
<text x="737.8" y="282.9" font-size="9.8" fill="#40a6d3" text-anchor="middle" font-family='"Liberation Sans","Noto Sans CJK SC",sans-serif' textLength="58.1" lengthAdjust="spacingAndGlyphs" stroke="#40a6d3" stroke-width="0.12">高清数字矩阵</text>
<text x="795.9" y="264.8" font-size="12.0" fill="#40a6d3" font-family='"Liberation Mono",monospace' textLength="14.0" lengthAdjust="spacingAndGlyphs">DID</text>
<text x="809.9" y="264.8" font-size="9.8" fill="#40a6d3" stroke="#40a6d3" stroke-width="0.12" font-family='"Liberation Sans","Noto Sans CJK SC",sans-serif' textLength="48.1" lengthAdjust="spacingAndGlyphs">液晶拼接墙</text>
<text x="584.9" y="403.5" font-size="9.8" fill="#40a6d3" text-anchor="middle" font-family='"Liberation Sans","Noto Sans CJK SC",sans-serif' textLength="28.2" lengthAdjust="spacingAndGlyphs" stroke="#40a6d3" stroke-width="0.12">路由器</text>
<text x="614.4" y="395.5" font-size="12.0" fill="#40a6d3" font-family='"Liberation Mono",monospace' textLength="14.0" lengthAdjust="spacingAndGlyphs">GIS</text>
<text x="628.4" y="395.5" font-size="9.8" fill="#40a6d3" stroke="#40a6d3" stroke-width="0.12" font-family='"Liberation Sans","Noto Sans CJK SC",sans-serif' textLength="28.6" lengthAdjust="spacingAndGlyphs">服务器</text>
<text x="713.2" y="395.5" font-size="9.8" fill="#40a6d3" text-anchor="middle" font-family='"Liberation Sans","Noto Sans CJK SC",sans-serif' textLength="58.5" lengthAdjust="spacingAndGlyphs" stroke="#40a6d3" stroke-width="0.12">黑名单数据库</text>
<text x="791.9" y="403.5" font-size="9.8" fill="#40a6d3" text-anchor="middle" font-family='"Liberation Sans","Noto Sans CJK SC",sans-serif' textLength="47.8" lengthAdjust="spacingAndGlyphs" stroke="#40a6d3" stroke-width="0.12">人脸识别客</text>
<text x="792.5" y="415.2" font-size="9.8" fill="#40a6d3" text-anchor="middle" font-family='"Liberation Sans","Noto Sans CJK SC",sans-serif' textLength="19.0" lengthAdjust="spacingAndGlyphs" stroke="#40a6d3" stroke-width="0.12">户端</text>
<text x="848.9" y="403.5" font-size="9.8" fill="#40a6d3" text-anchor="middle" font-family='"Liberation Sans","Noto Sans CJK SC",sans-serif' textLength="46.7" lengthAdjust="spacingAndGlyphs" stroke="#40a6d3" stroke-width="0.12">人脸识别客</text>
<text x="850.0" y="415.2" font-size="9.8" fill="#40a6d3" text-anchor="middle" font-family='"Liberation Sans","Noto Sans CJK SC",sans-serif' textLength="18.6" lengthAdjust="spacingAndGlyphs" stroke="#40a6d3" stroke-width="0.12">户端</text>
<use href="#cloud" x="233.5" y="424.5"/>
<text x="275.6" y="456.2" font-size="14.5" fill="#40a6d3" text-anchor="middle" font-family='"Liberation Sans","Noto Sans CJK SC",sans-serif' textLength="58.1" lengthAdjust="spacingAndGlyphs" stroke="#40a6d3" stroke-width="0.12">视频专网</text>
<use href="#cloud" x="444.5" y="426.5"/>
<text x="487.0" y="457.7" font-size="14.5" fill="#40a6d3" text-anchor="middle" font-family='"Liberation Sans","Noto Sans CJK SC",sans-serif' textLength="42.0" lengthAdjust="spacingAndGlyphs" stroke="#40a6d3" stroke-width="0.12">公安网</text>
<use href="#cloud" x="650" y="428"/>
<text x="692.0" y="459.6" font-size="13.5" fill="#35b5c8" text-anchor="middle" font-family='"Liberation Mono",monospace' textLength="56.0" lengthAdjust="spacingAndGlyphs" stroke="#35b5c8" stroke-width="0.12">Intelnet</text>
<path d="M525.8,452.3 L552,450.8 M551,456 L581.5,454.8" stroke="#4e585c" stroke-width="1.1" fill="none"/>
<polygon points="525.8,452.3 556.3,449.5 553,454.6 581.5,454.8 547.2,457.4 550.5,451.7" fill="url(#gbolt)"/>
<use href="#fw" x="580.6" y="424.3"/>
<path d="M605.9,452.3 L638,450.4 M636,456.8 L666,455.7" stroke="#4e585c" stroke-width="1.1" fill="none"/>
<polygon points="605.9,452.3 642.2,449 638,455.4 666,455.7 632.3,458.2 636.4,451.3" fill="url(#gbolt)"/>
<polygon points="734.6,467.6 788.7,501.2 777.1,506.9 825,544.6 762.8,504.6 774.6,498.7" fill="url(#gbolt2)" stroke="#6a7428" stroke-width="0.5" stroke-linejoin="round"/>
<text x="833.2" y="516.3" font-size="14" fill="#3aabd6" text-anchor="middle" font-family='"Liberation Mono",monospace' textLength="48.9" lengthAdjust="spacingAndGlyphs" stroke="#3aabd6" stroke-width="0.12">3G/WIFI</text>
<text x="837.2" y="559.2" font-size="14.5" fill="#e03a3c" text-anchor="middle" font-family='"Liberation Sans","Noto Sans CJK SC",sans-serif' textLength="86.9" lengthAdjust="spacingAndGlyphs" stroke="#e03a3c" stroke-width="0.22">移动终端访问</text>
<use href="#phone" x="768.6" y="575.3"/>
<use href="#laptop" x="796.5" y="564.5"/>
<use href="#tablet" x="890" y="581"/>
<text x="75.8" y="553.4" font-size="15" fill="#d22e2e" text-anchor="middle" font-family='"Liberation Sans","Noto Sans CJK SC",sans-serif' textLength="102.4" lengthAdjust="spacingAndGlyphs" stroke="#d22e2e" stroke-width="0.15">机场/码头/车站</text>
<line x1="44" y1="593.7" x2="44" y2="616.2" stroke="#5ea6c6" stroke-width="0.95"/>
<line x1="100.6" y1="593.7" x2="100.6" y2="616.2" stroke="#5ea6c6" stroke-width="0.95"/>
<line x1="153" y1="593.7" x2="153" y2="616.2" stroke="#5ea6c6" stroke-width="0.95"/>
<rect x="28.2" y="587.6" width="139.3" height="6.600000000000023" rx="3.3000000000000114" fill="url(#gbus)" stroke="#3b9bd2" stroke-width="1.3"/>
<ellipse cx="165.4" cy="590.9000000000001" rx="1.5" ry="2.4" fill="#e4f1fb" stroke="#3b9bd2" stroke-width="0.8"/>
<line x1="110.2" y1="557.6" x2="110.2" y2="591.1" stroke="#1c9ad8" stroke-width="2.2"/>
<use href="#sw" transform="translate(100 555.8) scale(0.84)"/>
<text x="84.3" y="565.2" font-size="9.6" fill="#40a6d3" text-anchor="middle" font-family='"Liberation Sans","Noto Sans CJK SC",sans-serif' textLength="28.6" lengthAdjust="spacingAndGlyphs" stroke="#40a6d3" stroke-width="0.12">交换机</text>
<use href="#dome" x="28.5" y="613.5"/>
<use href="#bullet" x="79.5" y="616.5"/>
<use href="#ptz" x="140.5" y="610.5"/>
<text x="95.1" y="653.5" font-size="9.6" fill="#40a6d3" text-anchor="middle" font-family='"Liberation Sans","Noto Sans CJK SC",sans-serif' textLength="66.7" lengthAdjust="spacingAndGlyphs" stroke="#40a6d3" stroke-width="0.12">网络高清摄像机</text>
<text x="268.6" y="553.4" font-size="15" fill="#d22e2e" text-anchor="middle" font-family='"Liberation Sans","Noto Sans CJK SC",sans-serif' textLength="137.5" lengthAdjust="spacingAndGlyphs" stroke="#d22e2e" stroke-width="0.15">宾馆/酒店/饭店/酒吧</text>
<line x1="216.5" y1="593.7" x2="216.5" y2="616.2" stroke="#5ea6c6" stroke-width="0.95"/>
<line x1="272.5" y1="593.7" x2="272.5" y2="616.2" stroke="#5ea6c6" stroke-width="0.95"/>
<line x1="325" y1="593.7" x2="325" y2="616.2" stroke="#5ea6c6" stroke-width="0.95"/>
<rect x="199.8" y="587.6" width="140.2" height="6.600000000000023" rx="3.3000000000000114" fill="url(#gbus)" stroke="#3b9bd2" stroke-width="1.3"/>
<ellipse cx="337.9" cy="590.9000000000001" rx="1.5" ry="2.4" fill="#e4f1fb" stroke="#3b9bd2" stroke-width="0.8"/>
<line x1="273.7" y1="557.6" x2="273.7" y2="591.1" stroke="#1c9ad8" stroke-width="2.2"/>
<use href="#sw" transform="translate(264 555.8) scale(0.84)"/>
<text x="248.0" y="565.2" font-size="9.6" fill="#40a6d3" text-anchor="middle" font-family='"Liberation Sans","Noto Sans CJK SC",sans-serif' textLength="28.0" lengthAdjust="spacingAndGlyphs" stroke="#40a6d3" stroke-width="0.12">交换机</text>
<use href="#dome" x="201" y="613.5"/>
<use href="#bullet" x="252" y="616.5"/>
<use href="#ptz" x="313" y="610.5"/>
<text x="267.2" y="653.5" font-size="9.6" fill="#40a6d3" text-anchor="middle" font-family='"Liberation Sans","Noto Sans CJK SC",sans-serif' textLength="67.5" lengthAdjust="spacingAndGlyphs" stroke="#40a6d3" stroke-width="0.12">网络高清摄像机</text>
<text x="424.5" y="554.4" font-size="15" fill="#d22e2e" text-anchor="middle" font-family='"Liberation Sans","Noto Sans CJK SC",sans-serif' textLength="107.7" lengthAdjust="spacingAndGlyphs" stroke="#d22e2e" stroke-width="0.15">洗浴/推拿/网吧/</text>
<line x1="391" y1="594.7" x2="391" y2="617.2" stroke="#5ea6c6" stroke-width="0.95"/>
<line x1="447.3" y1="594.7" x2="447.3" y2="617.2" stroke="#5ea6c6" stroke-width="0.95"/>
<line x1="500.5" y1="594.7" x2="500.5" y2="617.2" stroke="#5ea6c6" stroke-width="0.95"/>
<rect x="375" y="589" width="139.79999999999995" height="6.2000000000000455" rx="3.1000000000000227" fill="url(#gbus)" stroke="#3b9bd2" stroke-width="1.3"/>
<ellipse cx="512.8" cy="592.1" rx="1.4" ry="2.2" fill="#e4f1fb" stroke="#3b9bd2" stroke-width="0.8"/>
<line x1="462" y1="559" x2="462" y2="592.5" stroke="#1c9ad8" stroke-width="2.2"/>
<use href="#sw" transform="translate(451.7 557.3) scale(0.84)"/>
<text x="431.2" y="566.3" font-size="9.6" fill="#40a6d3" text-anchor="middle" font-family='"Liberation Sans","Noto Sans CJK SC",sans-serif' textLength="28.5" lengthAdjust="spacingAndGlyphs" stroke="#40a6d3" stroke-width="0.12">交换机</text>
<use href="#dome" x="381" y="614.5"/>
<use href="#bullet" x="432" y="617.5"/>
<use href="#ptz" x="492.7" y="611.5"/>
<text x="443.4" y="654.5" font-size="9.6" fill="#40a6d3" text-anchor="middle" font-family='"Liberation Sans","Noto Sans CJK SC",sans-serif' textLength="67.3" lengthAdjust="spacingAndGlyphs" stroke="#40a6d3" stroke-width="0.12">网络高清摄像机</text>
<text x="610.8" y="553.4" font-size="15" fill="#d22e2e" text-anchor="middle" font-family='"Liberation Sans","Noto Sans CJK SC",sans-serif' textLength="137.5" lengthAdjust="spacingAndGlyphs" stroke="#d22e2e" stroke-width="0.15">广场/公园/商场/影院</text>
<line x1="566.7" y1="593.7" x2="566.7" y2="616.2" stroke="#5ea6c6" stroke-width="0.95"/>
<line x1="623" y1="593.7" x2="623" y2="616.2" stroke="#5ea6c6" stroke-width="0.95"/>
<line x1="675.6" y1="593.7" x2="675.6" y2="616.2" stroke="#5ea6c6" stroke-width="0.95"/>
<rect x="550.6" y="587.6" width="139.39999999999998" height="6.600000000000023" rx="3.3000000000000114" fill="url(#gbus)" stroke="#3b9bd2" stroke-width="1.3"/>
<ellipse cx="687.9" cy="590.9000000000001" rx="1.5" ry="2.4" fill="#e4f1fb" stroke="#3b9bd2" stroke-width="0.8"/>
<line x1="636.8" y1="557.6" x2="636.8" y2="591.1" stroke="#1c9ad8" stroke-width="2.2"/>
<use href="#sw" transform="translate(627.6 555.8) scale(0.84)"/>
<text x="606.6" y="565.2" font-size="9.6" fill="#40a6d3" text-anchor="middle" font-family='"Liberation Sans","Noto Sans CJK SC",sans-serif' textLength="28.0" lengthAdjust="spacingAndGlyphs" stroke="#40a6d3" stroke-width="0.12">交换机</text>
<use href="#dome" x="554" y="613.5"/>
<use href="#bullet" x="604.5" y="616.5"/>
<use href="#ptz" x="665" y="610.5"/>
<text x="617.9" y="653.5" font-size="9.6" fill="#40a6d3" text-anchor="middle" font-family='"Liberation Sans","Noto Sans CJK SC",sans-serif' textLength="67.8" lengthAdjust="spacingAndGlyphs" stroke="#40a6d3" stroke-width="0.12">网络高清摄像机</text>
</g>
</svg></body></html>
